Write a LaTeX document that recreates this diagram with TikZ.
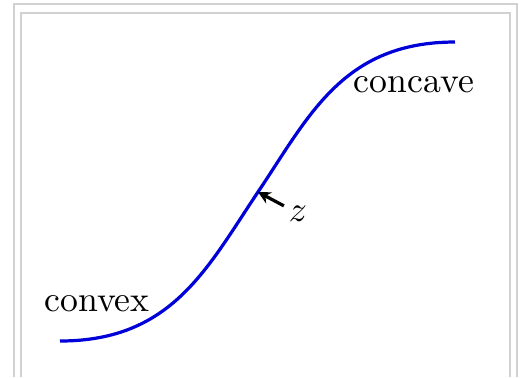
\documentclass[tikz,border=0pt]{standalone}
\usepackage{tikz}
\usetikzlibrary{arrows.meta, positioning}

\begin{document}
\begin{tikzpicture}[x=0.28pt,y=-0.28pt,
  frame/.style={draw=black!18, line width=0.45pt},
  sigmoid/.style={draw=blue!85!black, line width=0.9pt},
  pointer/.style={-{Stealth[length=3.5pt,width=3.5pt]}, line width=0.9pt}]
\useasboundingbox (0,0) rectangle (528,377);
\draw[frame] (14,377) -- (14,4) -- (517,4) -- (517,377);
\draw[frame] (21,377) -- (21,13) -- (510,13) -- (510,377);
\coordinate (inflect) at (258,192);
\draw[sigmoid] (60,341) .. controls (172,341) and (207,268) .. (inflect)
  .. controls (309,116) and (343,42) .. (455,42);
\node (convex) at (97,304) {convex};
\node (concave) at (414,85) {concave};
\node[inner sep=1.2pt] (z) at (298,214) {$z$};
\draw[pointer] (z.150) -- (inflect);
\end{tikzpicture}
\end{document}
